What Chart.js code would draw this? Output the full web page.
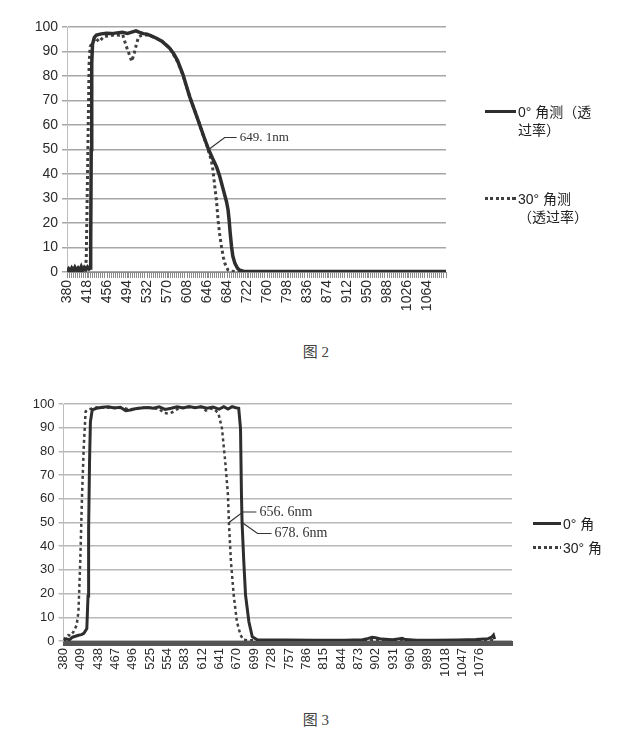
<!DOCTYPE html>
<html lang="zh-CN">
<head>
<meta charset="UTF-8">
<title>图2 / 图3 透过率曲线</title>
<style>
  body { margin: 0; background: #fff; width: 628px; height: 739px; position: relative; overflow: hidden;
         font-family: "Liberation Sans", "Noto Sans CJK SC", sans-serif; color: #222; }
  canvas { position: absolute; left: 0; }
  #fig2 { top: 0; }
  #fig3 { top: 380px; }
  .ln { position: absolute; height: 3px; background: #2e2e2e; }
  .dot { background: repeating-linear-gradient(to right, #404040 0 3px, transparent 3px 5.5px); }
  .lt { position: absolute; font-size: 14px; line-height: 18px; white-space: nowrap; }
  .cap { position: absolute; left: 0; width: 632px; text-align: center; font-size: 15px; line-height: 18px;
         font-family: "Liberation Serif", "Noto Sans CJK SC", serif; color: #444; }
</style>
</head>
<body>
  <canvas id="fig2" width="628" height="330"></canvas>
  <canvas id="fig3" width="628" height="320"></canvas>

  <!-- 图2 图例 -->
  <div class="ln" style="left:485px; top:110px; width:31px;"></div>
  <div class="lt" style="left:518px; top:103px;">0°&nbsp;角测（透<br>过率）</div>
  <div class="ln dot" style="left:485px; top:197px; width:32px;"></div>
  <div class="lt" style="left:518px; top:190px;">30°&nbsp;角测<br>（透过率）</div>
  <div class="cap" style="top:343px;">图 2</div>

  <!-- 图3 图例 -->
  <div class="ln" style="left:533px; top:522px; width:28px; height:2.5px;"></div>
  <div class="lt" style="left:563px; top:515px;">0°&nbsp;角</div>
  <div class="ln dot" style="left:533px; top:546px; width:28px; height:2.5px;"></div>
  <div class="lt" style="left:563px; top:539px;">30°&nbsp;角</div>
  <div class="cap" style="top:711px;">图 3</div>

  <script src="https://cdn.jsdelivr.net/npm/chart.js"></script>
  <script>
    // 图2 数据（波长 nm / 透过率 %）
    const fig2Labels = [380, 418, 456, 494, 532, 570, 608, 646, 684, 722, 760, 798, 836, 874, 912, 950, 988, 1026, 1064];
    const fig2Wl0 = [380, 383, 386, 389, 392, 395, 398, 401, 404, 407, 410, 413, 416, 419, 422, 424, 425, 426, 427, 428.5,
      432, 436, 445, 455, 465, 475, 485, 495, 503, 511, 518, 525, 532, 540, 550, 560, 567, 575, 583, 590, 600, 613, 621,
      629, 640, 649, 656, 664, 670, 677, 683, 686, 688, 690, 692.6, 695, 699, 704, 708, 715, 730, 800, 900, 1000, 1100];
    const fig2T0 = [0.5, 1.3, 0.3, 1.6, 0.5, 1.9, 0.7, 1.6, 0.6, 2.1, 0.5, 1.8, 1.0, 2.0, 1.2, 1.6, 10, 50, 85, 93,
      95.8, 96.7, 97.2, 97.4, 97.3, 97.6, 97.8, 97.4, 97.9, 98.4, 97.8, 97.3, 97.1, 96.4, 95.4, 94.2, 92.9, 91.4, 89.0,
      86.3, 80.8, 71.6, 66.8, 62, 55.2, 50, 46.6, 43, 39.2, 33.5, 28.7, 25.3, 21.2, 16, 10.3, 6.5, 3.5, 1.5, 0.8, 0.3,
      0.2, 0.2, 0.2, 0.2, 0.2];
    const fig2Wl30 = [380, 384, 388, 392, 396, 400, 404, 408, 412, 415, 416.5, 418, 420, 422, 424, 428, 434, 441, 450,
      460, 470, 480, 486, 492, 498, 503, 508, 512, 516, 522, 530, 540, 550, 560, 575, 590, 600, 613, 629, 640, 646, 650,
      654, 657, 660.7, 664, 667, 670, 673.5, 677, 680, 683, 686, 690, 700, 750, 800, 900, 1000, 1100];
    const fig2T30 = [0.8, 0.2, 1.2, 0.4, 1.0, 0.3, 1.4, 0.6, 1.1, 1.5, 5, 25, 55, 85, 92, 93.5, 95.5, 94, 96.2,
      96.4, 96.8, 96.6, 96.8, 92.5, 89, 86, 89.5, 93, 96, 96.6, 96.8, 96.3, 95.3, 94.3, 91.5, 85.8, 80.5, 71.6, 62, 55,
      51.5, 48.5, 45.7, 42, 35, 29, 21.2, 15.5, 10.3, 6, 3.5, 2, 0.8, 0.4, 0.2, 0.2, 0.2, 0.2, 0.2, 0.2];
    const fig2Marks = [{ wl: 649.1, t: 50, text: '649. 1nm' }];

    // 图3 数据
    const fig3Labels = [380, 409, 438, 467, 496, 525, 554, 583, 612, 641, 670, 699, 728, 757, 786, 815, 844, 873, 902,
      931, 960, 989, 1018, 1047, 1076];
    const fig3Wl0 = [380, 385, 390, 395, 400, 405, 410, 414, 419, 421, 422, 423.5, 425, 428, 435, 445, 455, 465, 475,
      484, 492, 500, 510, 520, 530, 540, 550, 560, 570, 580, 590, 600, 610, 620, 630, 640, 648, 655, 662, 668, 673, 676,
      677.6, 678.6, 681.5, 684.4, 690, 695.7, 704, 750, 800, 850, 880, 890, 896, 902, 912, 930, 940, 946, 952, 970, 1000,
      1040, 1070, 1090, 1096, 1099, 1101];
    const fig3T0 = [0.3, 0.9, 0.5, 1.6, 2.0, 2.4, 2.7, 3.2, 5.3, 19, 47, 75, 92.5, 97.5, 98.2, 98.6, 98.8, 98.3, 98.6,
      97.2, 97.5, 98, 98.3, 98.5, 98.2, 98.8, 97.7, 98.2, 98.8, 98.3, 98.9, 98.4, 98.8, 98.2, 98.7, 97.8, 98.9, 97.9,
      98.9, 98.4, 98.2, 89.7, 61.6, 50, 33.5, 19.4, 8.1, 1.8, 0.5, 0.4, 0.3, 0.3, 0.5, 1.1, 1.6, 1.4, 0.8, 0.5, 0.9,
      1.1, 0.6, 0.3, 0.3, 0.4, 0.6, 1.0, 1.6, 2.5, 0.8];
    const fig3Wl30 = [380, 384, 388, 392, 397, 402, 405, 408, 411, 414, 417, 420, 430, 440, 450, 460, 470, 480, 490, 500,
      510, 520, 530, 540, 548, 555, 562, 570, 580, 590, 600, 610, 618, 625, 632, 639, 645, 650.5, 655, 656.6, 660, 664.6,
      670, 676, 681, 690, 750, 850, 950, 1050, 1100];
    const fig3T30 = [0.5, 1.8, 2.5, 2.2, 4, 6.7, 12.4, 33.5, 61.6, 82.7, 96.8, 97.6, 98.3, 98.7, 98.4, 98.6, 98.2, 98.5,
      97.6, 98.2, 98.4, 98.6, 98.3, 97.9, 96.2, 96.0, 96.5, 97.8, 98.4, 98.6, 98.5, 98.8, 97.2, 98.1, 97.8, 96.1, 89.7,
      75.6, 61.6, 50, 33.5, 19.4, 8.1, 2.5, 0.5, 0.3, 0.3, 0.3, 0.3, 0.3, 0.3];
    const fig3Marks = [{ wl: 656.6, t: 50, text: '656. 6nm' }, { wl: 678.6, t: 50, text: '678. 6nm' }];

    function pts(wl, t) { return wl.map((w, i) => ({ x: w, y: t[i] })); }

    // 引线标注
    const leaderPlugin = {
      id: 'leader',
      afterDatasetsDraw(chart, args, opts) {
        const { ctx, scales: { x, y } } = chart;
        ctx.save();
        ctx.strokeStyle = '#333';
        ctx.fillStyle = '#333';
        ctx.lineWidth = 1.2;
        ctx.font = opts.font;
        ctx.textBaseline = 'middle';
        opts.marks.forEach((m, i) => {
          const off = opts.offsets[i];
          const px = x.getPixelForValue(m.wl), py = y.getPixelForValue(m.t);
          const ex = px + off.dx, ey = py + off.dy;
          ctx.beginPath();
          ctx.moveTo(px, py);
          ctx.lineTo(ex, ey);
          ctx.lineTo(ex + off.len, ey);
          ctx.stroke();
          ctx.fillText(m.text, ex + off.len + 3, ey);
        });
        ctx.restore();
      }
    };

    function makeChart(id, o) {
      const font = { family: '"Liberation Sans", Arial, sans-serif', size: o.fs };
      return new Chart(document.getElementById(id), {
        type: 'line',
        data: {
          datasets: [
            { label: '0°', data: pts(o.wl0, o.t0), borderColor: '#2e2e2e', borderWidth: o.lw, pointRadius: 0, tension: 0 },
            { label: '30°', data: pts(o.wl30, o.t30), borderColor: '#404040', borderWidth: o.lw - 0.5,
              borderDash: [3, 3], pointRadius: 0, tension: 0 }
          ]
        },
        options: {
          responsive: false,
          animation: false,
          layout: { padding: o.pad },
          plugins: {
            legend: { display: false },
            tooltip: { enabled: false },
            leader: { marks: o.marks, offsets: o.offsets, font: o.markFont }
          },
          scales: {
            x: {
              type: 'linear', min: 380, max: o.xMax,
              // 密集刻度线 + 标签刻度
              afterBuildTicks: ax => {
                const vals = new Set(o.labels);
                for (let v = 380; v <= o.xMax; v += o.minor) vals.add(v);
                ax.ticks = [...vals].sort((a, b) => a - b).map(v => ({ value: v }));
              },
              afterFit: ax => { ax.height = o.xH; },
              ticks: {
                autoSkip: false, minRotation: 90, maxRotation: 90, padding: 2, color: '#2a2a2a', font,
                callback: v => o.labels.includes(v) ? String(v) : ''
              },
              grid: { drawOnChartArea: false, tickLength: o.tickLen, color: o.tickColor, lineWidth: 1 },
              border: { color: o.tickColor }
            },
            y: {
              min: 0, max: 100,
              afterFit: ax => { ax.width = o.yW; },
              ticks: { stepSize: 10, padding: 4, color: '#2a2a2a', font },
              grid: { color: o.gridColor, lineWidth: 1.5, tickLength: 5 },
              border: { color: '#bdbdbd' }
            }
          }
        },
        plugins: [leaderPlugin]
      });
    }

    makeChart('fig2', {
      wl0: fig2Wl0, t0: fig2T0, wl30: fig2Wl30, t30: fig2T30, labels: fig2Labels, marks: fig2Marks,
      offsets: [{ dx: 16, dy: -12, len: 12 }], markFont: '13px "Liberation Serif", serif',
      xMax: 1100, minor: 4, tickLen: 6, tickColor: '#8c8c8c', gridColor: '#a6a6a6',
      lw: 3.5, fs: 14, yW: 67, xH: 58, pad: { top: 27, right: 182, left: 0, bottom: 0 }
    });

    makeChart('fig3', {
      wl0: fig3Wl0, t0: fig3T0, wl30: fig3Wl30, t30: fig3T30, labels: fig3Labels, marks: fig3Marks,
      offsets: [{ dx: 14, dy: -10.5, len: 13.5 }, { dx: 15.5, dy: 11, len: 14 }], markFont: '14px "Liberation Serif", serif',
      xMax: 1130, minor: 1, tickLen: 5, tickColor: '#555', gridColor: '#b8b8b8',
      lw: 3, fs: 13, yW: 63.5, xH: 59, pad: { top: 24, right: 116, left: 0, bottom: 0 }
    });
  </script>
</body>
</html>
